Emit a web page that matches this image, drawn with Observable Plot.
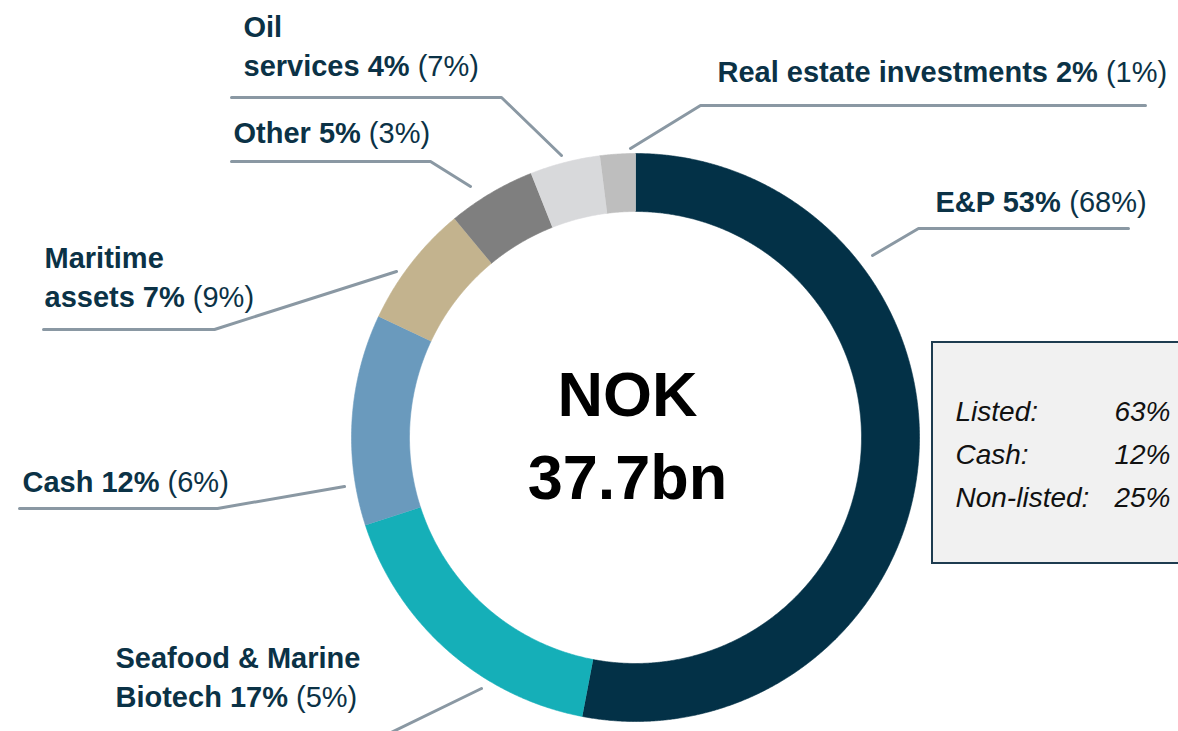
<!DOCTYPE html>
<html><head><meta charset="utf-8">
<script src="https://cdn.jsdelivr.net/npm/d3@7"></script>
<script src="https://cdn.jsdelivr.net/npm/@observablehq/plot@0.6"></script>
<style>html,body{margin:0;padding:0;background:#fff;overflow:hidden} #chart svg{display:block}</style>
</head><body><div id="chart"></div>
<script>
// ---- data ----
const categories = ["E&P", "Seafood & Marine\nBiotech", "Cash", "Maritime\nassets", "Other", "Oil\nservices", "Real estate investments"];
const shares = [53, 17, 12, 7, 5, 4, 2];
const previousShares = [68, 5, 6, 9, 3, 7, 1];
const colors = ["#033147", "#15AFB8", "#6A9ABD", "#C3B38E", "#7F7F7F", "#D8D9DB", "#BEBEBE"];
const totalLabel = ["NOK", "37.7bn"];
const splitLabels = ["Listed:", "Cash:", "Non-listed:"];
const splitValues = [63, 12, 25];

// ---- layout (positions only) ----
const W = 1178, H = 731, CX = 635, CY = 437, R_OUT = 284, R_IN = 226;
const FS = 29, LINE_H = 39;
const labelLayout = [
  {x: 935, y: 202, leader: [[1128, 228], [918, 228], [872, 255]]},
  {x: 115, y: 697, leader: [[481, 688], [368, 743]]},
  {x: 22,  y: 482, leader: [[19, 508], [217, 508], [344, 486]]},
  {x: 44,  y: 297, leader: [[43, 329], [214, 329], [396, 271]]},
  {x: 233, y: 133, leader: [[231, 161], [430, 161], [470, 186]]},
  {x: 243, y: 66,  leader: [[231, 97], [501, 97], [561, 155]]},
  {x: 717, y: 72,  leader: [[1145, 105], [700, 105], [630, 148]]}
];
const boxLayout = {x1: 932, x2: 1200, y1: 342, y2: 563, textX: 955, valueX: 1170, rows: [412, 455, 498]};
const centerLayout = {x: 627, rows: [395, 478]};

// ---- slices from d3.pie ----
const arcs = d3.pie().sort(null).value(d => d)(shares);
const slicePts = [];
arcs.forEach((p, i) => {
  const n = Math.max(4, Math.ceil((p.endAngle - p.startAngle) / 0.005));
  for (let k = 0; k <= n; k++) {
    const a = p.startAngle + (p.endAngle - p.startAngle) * k / n;
    slicePts.push({cat: categories[i], x: CX + R_OUT * Math.sin(a), y: CY - R_OUT * Math.cos(a)});
  }
  for (let k = n; k >= 0; k--) {
    const a = p.startAngle + (p.endAngle - p.startAngle) * k / n;
    slicePts.push({cat: categories[i], x: CX + R_IN * Math.sin(a), y: CY - R_IN * Math.cos(a)});
  }
});

// ---- labels ----
const ctx = document.createElement("canvas").getContext("2d");
ctx.font = `bold ${FS}px 'Liberation Sans', Arial, sans-serif`;
const boldLines = [], regularParts = [], leaderPts = [];
categories.forEach((name, i) => {
  const L = labelLayout[i];
  const lines = name.split("\n");
  lines[lines.length - 1] += ` ${shares[i]}%`;
  lines.forEach((t, j) => boldLines.push({x: L.x, y: L.y - (lines.length - 1 - j) * LINE_H, text: t}));
  const w = ctx.measureText(lines[lines.length - 1] + " ").width;
  regularParts.push({x: L.x + w, y: L.y, text: `(${previousShares[i]}%)`});
  L.leader.forEach(([x, y]) => leaderPts.push({cat: categories[i], x, y}));
});

const boxRows = splitLabels.map((l, i) => ({label: l, value: `${splitValues[i]}%`, y: boxLayout.rows[i]}));
const centerRows = totalLabel.map((t, i) => ({text: t, y: centerLayout.rows[i]}));

const textColor = "#0B3246";
const chart = Plot.plot({
  width: W, height: H, margin: 0,
  x: {domain: [0, W], axis: null},
  y: {domain: [0, H], range: [0, H], axis: null},
  color: {domain: categories, range: colors},
  style: {fontFamily: "'Liberation Sans', Arial, sans-serif", background: "white"},
  marks: [
    Plot.line(leaderPts, {x: "x", y: "y", z: "cat", stroke: "#8A98A3", strokeWidth: 3, strokeLinejoin: "miter"}),
    Plot.line(slicePts, {x: "x", y: "y", z: "cat", fill: "cat", stroke: "cat", strokeWidth: 0.6}),
    Plot.text(boldLines, {x: "x", y: "y", text: "text", textAnchor: "start", fontWeight: "bold", fontSize: FS, fill: textColor}),
    Plot.text(regularParts, {x: "x", y: "y", text: "text", textAnchor: "start", fontSize: FS, fill: textColor}),
    Plot.text(centerRows, {x: centerLayout.x, y: "y", text: "text", fontWeight: "bold", fontSize: 63, fill: "#000"}),
    Plot.rect([boxLayout], {x1: "x1", x2: "x2", y1: "y1", y2: "y2", fill: "#F1F1F1", stroke: "#1E3C50", strokeWidth: 2}),
    Plot.text(boxRows, {x: boxLayout.textX, y: "y", text: "label", textAnchor: "start", fontStyle: "italic", fontSize: 28, fill: "#111"}),
    Plot.text(boxRows, {x: boxLayout.valueX, y: "y", text: "value", textAnchor: "end", fontStyle: "italic", fontSize: 28, fill: "#111"})
  ]
});
document.getElementById("chart").appendChild(chart);
</script>
</body></html>
